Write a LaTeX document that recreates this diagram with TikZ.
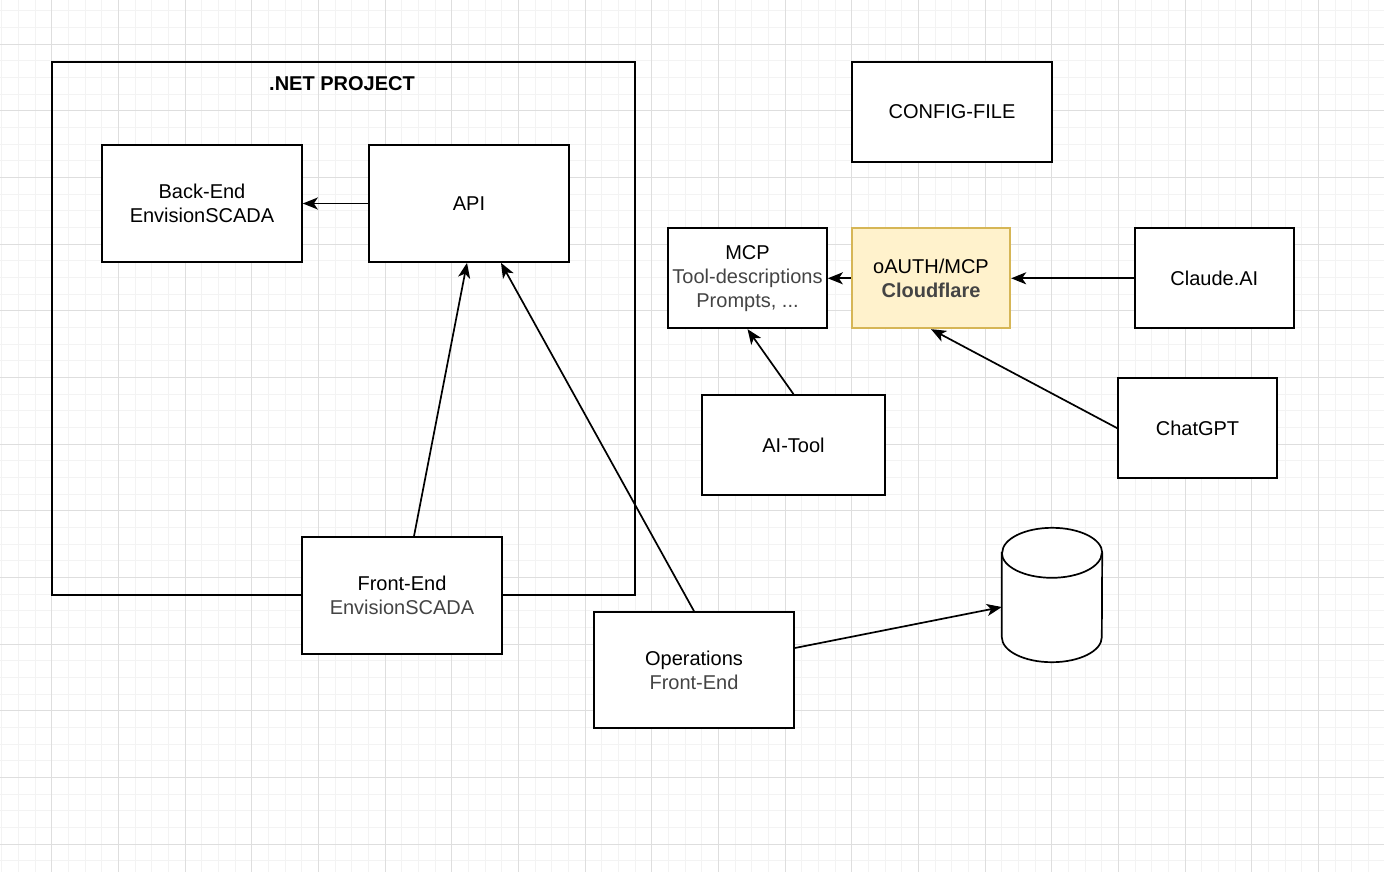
\documentclass[tikz,border=0pt]{standalone}
\usepackage{fontspec}
\setmainfont{Liberation Sans}
\usepackage{xcolor}
\usetikzlibrary{arrows.meta}
\definecolor{gridminor}{RGB}{243,243,243}
\definecolor{gridmajor}{RGB}{222,222,222}
\definecolor{subtext}{RGB}{68,68,68}
\definecolor{authfill}{RGB}{255,242,204}
\definecolor{authline}{RGB}{214,182,86}

\tikzset{
  box/.style={draw, line width=1.7pt, fill=white, align=center, inner sep=0pt,
    font=\fontsize{20}{24}\selectfont},
  link/.style={line width=1.7pt, -{Stealth[length=15pt,width=12pt,inset=4pt]}}
}

\begin{document}
\begin{tikzpicture}[x=1pt, y=-1pt]
  \useasboundingbox (0,0) rectangle (1384,872);
  \fill[white] (0,0) rectangle (1384,872);

  % Background grid: minor 16.67px, major every 4th line
  \foreach \i in {0,...,83} {
    \draw[gridminor, line width=1pt] ({1.7+\i*16.6667},0) -- ({1.7+\i*16.6667},872);
  }
  \foreach \j in {0,...,52} {
    \draw[gridminor, line width=1pt] (0,{10.97+\j*16.6667}) -- (1384,{10.97+\j*16.6667});
  }
  \foreach \i in {0,...,20} {
    \draw[gridmajor, line width=1pt] ({51.7+\i*66.6667},0) -- ({51.7+\i*66.6667},872);
  }
  \foreach \j in {0,...,12} {
    \draw[gridmajor, line width=1pt] (0,{44.3+\j*66.6667}) -- (1384,{44.3+\j*66.6667});
  }

  % .NET project container
  \node[box, fill=none, minimum width=583pt, minimum height=533pt] (dotnet) at (343.5,328.5) {};
  \node[font=\fontsize{20}{24}\selectfont\bfseries] (dotnetlabel) at (342,84) {.NET PROJECT};

  % Boxes inside the project
  \node[box, minimum width=200pt, minimum height=117pt] (backend) at (202,203.5) {Back-End\\EnvisionSCADA};
  \node[box, minimum width=200pt, minimum height=117pt] (api) at (469,203.5) {API};
  \node[box, minimum width=200pt, minimum height=117pt] (frontend) at (402,595.5) {Front-End\\\textcolor{subtext}{EnvisionSCADA}};

  % Outside boxes
  \node[box, minimum width=200pt, minimum height=116pt] (ops) at (694,670) {Operations\\\textcolor{subtext}{Front-End}};
  \node[box, minimum width=200pt, minimum height=100pt] (config) at (952,111.7) {CONFIG-FILE};
  \node[box, minimum width=159pt, minimum height=100pt] (mcp) at (747.5,278.3) {MCP\\\textcolor{subtext}{Tool-descriptions}\\\textcolor{subtext}{Prompts, ...}};
  \node[box, draw=authline, fill=authfill, minimum width=158.6pt, minimum height=100pt] (cloudflare) at (931,278.3) {oAUTH/MCP\\\textcolor{subtext}{\bfseries Cloudflare}};
  \node[box, minimum width=158.7pt, minimum height=100pt] (claude) at (1214.3,278.3) {Claude.AI};
  \node[box, minimum width=158.4pt, minimum height=100pt] (chatgpt) at (1197.5,428.3) {ChatGPT};
  \node[box, minimum width=183pt, minimum height=100pt] (aitool) at (793.5,445) {AI-Tool};

  % Database cylinder
  \node[minimum width=100pt, minimum height=134pt, inner sep=0pt] (db) at (1052,595) {};
  \draw[line width=1.7pt, fill=white] (db.north west) ++(0,25) -- ([yshift=25pt]db.south west)
    arc[start angle=180, end angle=360, x radius=50pt, y radius=25pt] -- ([yshift=-25pt]db.north east)
    arc[start angle=0, end angle=180, x radius=50pt, y radius=25pt] -- cycle;
  \draw[line width=1.7pt] ([yshift=-25pt]db.north west)
    arc[start angle=180, end angle=360, x radius=50pt, y radius=25pt];

  % Connectors
  \draw[link] (api.west) -- (backend.east);
  \draw[link] ([xshift=12pt]frontend.north) -- ([xshift=-2pt]api.south);
  \draw[link] (ops.north) -- ([xshift=32pt]api.south);
  \draw[link] ([yshift=22pt]ops.east) -- ([yshift=-12pt]db.west);
  \draw[link] (cloudflare.west) -- (mcp.east);
  \draw[link] (claude.west) -- (cloudflare.east);
  \draw[link] (chatgpt.west) -- (cloudflare.south);
  \draw[link] (aitool.north) -- (mcp.south);

\end{tikzpicture}
\end{document}
